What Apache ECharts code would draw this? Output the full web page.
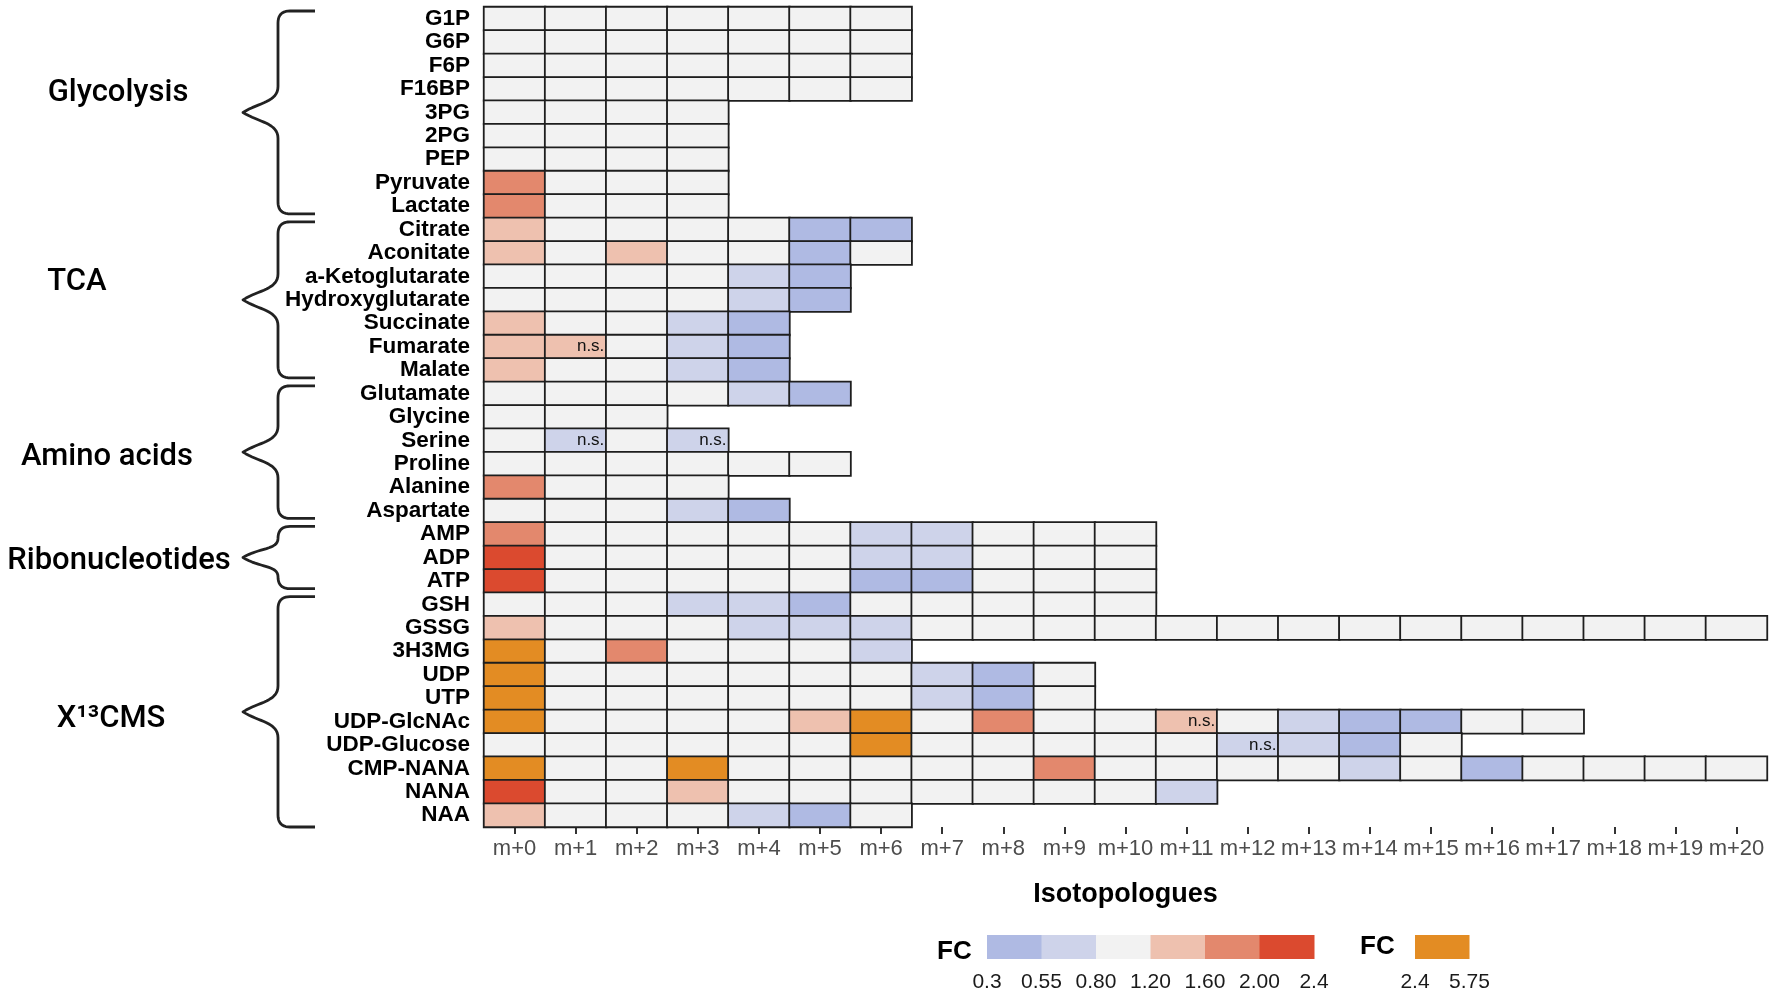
<!DOCTYPE html>
<html>
<head>
<meta charset="utf-8">
<script src="https://cdn.jsdelivr.net/npm/echarts@6/dist/echarts.min.js"></script>
<style>
html, body { margin: 0; padding: 0; background: #fff; }
#chart { width: 1772px; height: 993px; }
</style>
</head>
<body>
<div id="chart"></div>
<script>
// ---- data ----
var isotopologues = ['m+0','m+1','m+2','m+3','m+4','m+5','m+6','m+7','m+8','m+9','m+10',
  'm+11','m+12','m+13','m+14','m+15','m+16','m+17','m+18','m+19','m+20'];

var metabolites = ['G1P','G6P','F6P','F16BP','3PG','2PG','PEP','Pyruvate','Lactate',
  'Citrate','Aconitate','a-Ketoglutarate','Hydroxyglutarate','Succinate','Fumarate','Malate',
  'Glutamate','Glycine','Serine','Proline','Alanine','Aspartate',
  'AMP','ADP','ATP',
  'GSH','GSSG','3H3MG','UDP','UTP','UDP-GlcNAc','UDP-Glucose','CMP-NANA','NANA','NAA'];

var groupNames = ['Glycolysis','TCA','Amino acids','Ribonucleotides','X\u00b9\u00b3CMS'];
var groupSizes = [9, 7, 6, 3, 10];

// fold change per isotopologue (estimated from the colour bins)
var glycolysisFC = [
  [1, 1, 1, 1, 1, 1, 1],
  [1, 1, 1, 1, 1, 1, 1],
  [1, 1, 1, 1, 1, 1, 1],
  [1, 1, 1, 1, 1, 1, 1],
  [1, 1, 1, 1],
  [1, 1, 1, 1],
  [1, 1, 1, 1],
  [1.8, 1, 1, 1],
  [1.8, 1, 1, 1]
];
var tcaFC = [
  [1.4, 1, 1, 1, 1, 0.45, 0.45],
  [1.4, 1, 1.4, 1, 1, 0.45, 1],
  [1, 1, 1, 1, 0.68, 0.45],
  [1, 1, 1, 1, 0.68, 0.45],
  [1.4, 1, 1, 0.68, 0.45],
  [1.4, 1.4, 1, 0.68, 0.45],
  [1.4, 1, 1, 0.68, 0.45]
];
var aminoFC = [
  [1, 1, 1, 1, 0.68, 0.45],
  [1, 1, 1],
  [1, 0.68, 1, 0.68],
  [1, 1, 1, 1, 1, 1],
  [1.8, 1, 1, 1],
  [1, 1, 1, 0.68, 0.45]
];
var ribonucFC = [
  [1.8, 1, 1, 1, 1, 1, 0.68, 0.68, 1, 1, 1],
  [2.2, 1, 1, 1, 1, 1, 0.68, 0.68, 1, 1, 1],
  [2.2, 1, 1, 1, 1, 1, 0.45, 0.45, 1, 1, 1]
];
var x13cmsFC = [
  [1, 1, 1, 0.68, 0.68, 0.45, 1, 1, 1, 1, 1],
  [1.4, 1, 1, 1, 0.68, 0.68, 0.68, 1, 1, 1, 1, 1, 1, 1, 1, 1, 1, 1, 1, 1, 1],
  [3.5, 1, 1.8, 1, 1, 1, 0.68],
  [3.5, 1, 1, 1, 1, 1, 1, 0.68, 0.45, 1],
  [3.5, 1, 1, 1, 1, 1, 1, 0.68, 0.45, 1],
  [3.5, 1, 1, 1, 1, 1.4, 3.5, 1, 1.8, 1, 1, 1.4, 1, 0.68, 0.45, 0.45, 1, 1],
  [1, 1, 1, 1, 1, 1, 3.5, 1, 1, 1, 1, 1, 0.68, 0.68, 0.45, 1],
  [3.5, 1, 1, 3.5, 1, 1, 1, 1, 1, 1.8, 1, 1, 1, 1, 0.68, 1, 0.45, 1, 1, 1, 1],
  [2.2, 1, 1, 1.4, 1, 1, 1, 1, 1, 1, 1, 0.68],
  [1.4, 1, 1, 1, 0.68, 0.45, 1]
];

var nsCells = [['Fumarate','m+1'], ['Serine','m+1'], ['Serine','m+3'],
  ['UDP-GlcNAc','m+11'], ['UDP-Glucose','m+12']];

var fcBreaks = [0.3, 0.55, 0.80, 1.20, 1.60, 2.00, 2.4];
var fcBreakLabels = ['0.3','0.55','0.80','1.20','1.60','2.00','2.4'];
var fcHighBreaks = [2.4, 5.75];
var fcHighLabels = ['2.4','5.75'];

// ---- styles ----
var binColors = ['#AFBAE3', '#CED3EA', '#F2F2F2', '#EEC1AF', '#E3886D', '#DB4A2F'];
var highColor = '#E38C23';
var FONT = '"Liberation Sans", Arial, sans-serif';
var GROUP_FONT = 'Roboto, "Liberation Sans", sans-serif';

var rows = glycolysisFC.concat(tcaFC, aminoFC, ribonucFC, x13cmsFC);
var cells = [];
rows.forEach(function (vals, r) {
  vals.forEach(function (v, c) {
    cells.push([c, r, v]);
  });
});
var nsKeys = {};
nsCells.forEach(function (p) {
  nsKeys[isotopologues.indexOf(p[1]) + '_' + metabolites.indexOf(p[0])] = true;
});

var pieces = [];
for (var i = 0; i < binColors.length; i++) {
  pieces.push({ gte: fcBreaks[i], lt: fcBreaks[i + 1], color: binColors[i] });
}
pieces.push({ gte: fcHighBreaks[0], lte: fcHighBreaks[1], color: highColor });

var chart = echarts.init(document.getElementById('chart'));
var option = {
  backgroundColor: '#fff',
  animation: false,
  grid: {
    left: 484, top: 7, right: 5, bottom: 166,
    containLabel: false, outerBoundsMode: 'none'
  },
  xAxis: {
    type: 'category',
    data: isotopologues,
    name: 'Isotopologues',
    nameLocation: 'middle',
    nameGap: 54,
    nameTextStyle: { fontFamily: FONT, fontSize: 27, fontWeight: 'bold', color: '#000' },
    axisLine: { show: false },
    axisTick: { show: true, alignWithLabel: true, length: 7, lineStyle: { color: '#333', width: 2 } },
    axisLabel: { interval: 0, margin: 11, fontFamily: FONT, fontSize: 22, color: '#4D4D4D' },
    splitLine: { show: false }
  },
  yAxis: {
    type: 'category',
    data: metabolites,
    inverse: true,
    axisLine: { show: false },
    axisTick: { show: false },
    axisLabel: { interval: 0, margin: 14, fontFamily: FONT, fontSize: 22.5, fontWeight: 'bold', color: '#000' },
    splitLine: { show: false }
  },
  visualMap: {
    type: 'piecewise',
    show: false,
    dimension: 2,
    pieces: pieces
  },
  series: [{
    type: 'heatmap',
    data: cells,
    itemStyle: { borderColor: '#1E1E1E', borderWidth: 1.8 },
    emphasis: { disabled: true },
    label: {
      show: true,
      position: 'insideRight',
      distance: 3,
      fontFamily: FONT,
      fontSize: 17,
      color: '#111',
      formatter: function (p) {
        return nsKeys[p.value[0] + '_' + p.value[1]] ? 'n.s.' : '';
      }
    }
  }]
};
chart.setOption(option);

// ---- braces, group names and the FC legend ----
var braceX = 278;
var labelX = [118, 77, 107, 119, 111];
var labelDy = [-19, -18, 5, 4, 7];

function quad(pts, p0, p1, p2) {
  for (var t = 1; t <= 10; t++) {
    var s = t / 10, u = 1 - s;
    pts.push([u * u * p0[0] + 2 * u * s * p1[0] + s * s * p2[0],
              u * u * p0[1] + 2 * u * s * p1[1] + s * s * p2[1]]);
  }
}
function cubic(pts, p0, p1, p2, p3) {
  for (var t = 1; t <= 16; t++) {
    var s = t / 16, u = 1 - s;
    pts.push([u * u * u * p0[0] + 3 * u * u * s * p1[0] + 3 * u * s * s * p2[0] + s * s * s * p3[0],
              u * u * u * p0[1] + 3 * u * u * s * p1[1] + 3 * u * s * s * p2[1] + s * s * s * p3[1]]);
  }
}
function bracePoints(yTop, yBot) {
  var xv = braceX, xe = braceX + 37, xt = braceX - 35, r = 12;
  var ym = (yTop + yBot) / 2;
  var d = Math.min(26, ym - yTop - r);
  var pts = [[xe, yTop], [xv + r, yTop]];
  quad(pts, [xv + r, yTop], [xv, yTop], [xv, yTop + r]);
  pts.push([xv, ym - d]);
  cubic(pts, [xv, ym - d], [xv, ym - d * 0.4], [xt + 16, ym - 10], [xt, ym]);
  cubic(pts, [xt, ym], [xt + 16, ym + 10], [xv, ym + d * 0.4], [xv, ym + d]);
  pts.push([xv, yBot - r]);
  quad(pts, [xv, yBot - r], [xv, yBot], [xv + r, yBot]);
  pts.push([xe, yBot]);
  return pts;
}

var y0 = chart.convertToPixel({ yAxisIndex: 0 }, metabolites[0]);
var rowH = chart.convertToPixel({ yAxisIndex: 0 }, metabolites[1]) - y0;
var graphics = [];
var start = 0;
groupSizes.forEach(function (n, g) {
  var top = chart.convertToPixel({ yAxisIndex: 0 }, metabolites[start]) - rowH / 2 + 4;
  var bot = chart.convertToPixel({ yAxisIndex: 0 }, metabolites[start + n - 1]) + rowH / 2 - 4;
  if (g === groupSizes.length - 1) bot += 4;
  graphics.push({
    type: 'polyline',
    shape: { points: bracePoints(top, bot) },
    style: { fill: null, stroke: '#222', lineWidth: 2.8, lineJoin: 'round' }
  });
  graphics.push({
    type: 'text',
    x: labelX[g], y: (top + bot) / 2 + labelDy[g],
    style: {
      text: groupNames[g], fill: '#000', font: '500 31px ' + GROUP_FONT,
      textAlign: 'center', textVerticalAlign: 'middle'
    }
  });
  start += n;
});

var legX = 987, legY = 935, segW = 54.5, segH = 24;
graphics.push({
  type: 'text', x: 937, y: legY + segH / 2 + 5,
  style: { text: 'FC', fill: '#000', font: 'bold 26px ' + FONT, textAlign: 'left', textVerticalAlign: 'middle' }
});
binColors.forEach(function (c, k) {
  graphics.push({
    type: 'rect', shape: { x: legX + k * segW, y: legY, width: segW + 0.5, height: segH },
    style: { fill: c }
  });
});
fcBreakLabels.forEach(function (t, k) {
  graphics.push({
    type: 'text', x: legX + k * segW, y: legY + 47,
    style: { text: t, fill: '#1A1A1A', font: '21px ' + FONT, textAlign: 'center', textVerticalAlign: 'middle' }
  });
});
var hiX = 1415;
graphics.push({
  type: 'text', x: 1360, y: legY + segH / 2,
  style: { text: 'FC', fill: '#000', font: 'bold 26px ' + FONT, textAlign: 'left', textVerticalAlign: 'middle' }
});
graphics.push({
  type: 'rect', shape: { x: hiX, y: legY, width: segW, height: segH },
  style: { fill: highColor }
});
fcHighLabels.forEach(function (t, k) {
  graphics.push({
    type: 'text', x: hiX + k * segW, y: legY + 47,
    style: { text: t, fill: '#1A1A1A', font: '21px ' + FONT, textAlign: 'center', textVerticalAlign: 'middle' }
  });
});

chart.setOption({ graphic: graphics });
</script>
</body>
</html>
